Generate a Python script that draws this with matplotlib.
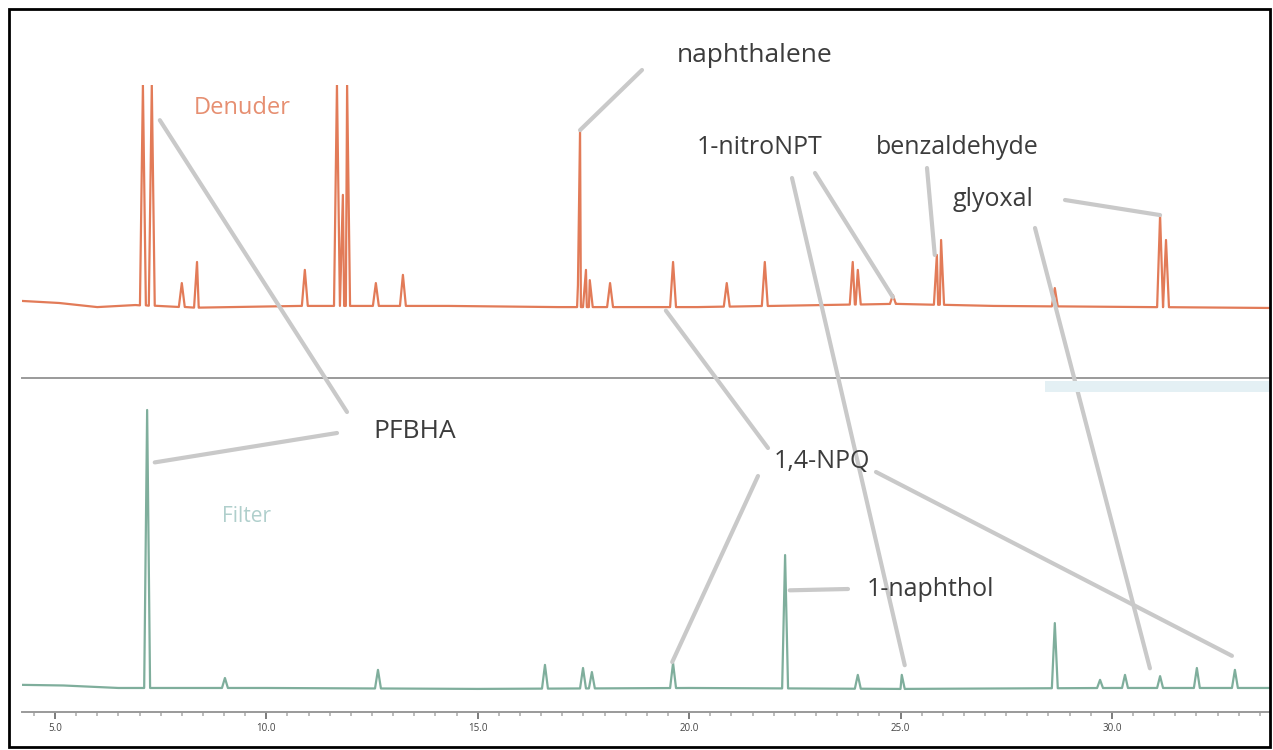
import numpy as np
import matplotlib.pyplot as plt
from matplotlib.patches import Rectangle

plt.rcParams['font.family'] = ['Open Sans', 'DejaVu Sans']

# retention time [min] and relative signal (0-100 of panel height)
den_base_t = [4.22, 5.1, 6.0, 6.9, 8.4, 10.8, 14.3, 16.9, 20.2, 24.9, 27.2, 33.74]
den_base_v = [26.3, 25.6, 24.2, 24.9, 24.0, 24.6, 24.6, 24.2, 24.2, 25.3, 24.6, 23.9]
den_peak_t = [7.08, 7.29, 8.00, 8.36, 10.91, 11.67, 11.81, 11.91, 12.59, 13.23,
              17.37, 17.42, 17.56, 17.65, 18.13, 19.62, 20.89, 21.79,
              23.87, 23.99, 24.82, 25.86, 25.96, 28.65, 31.14, 31.28]
den_peak_v = [100, 100, 32.4, 39.6, 36.9, 100, 62.5, 100, 32.4, 35.2,
              31.7, 84.6, 36.9, 33.4, 32.4, 39.6, 32.4, 39.6,
              39.6, 36.9, 28.3, 42.0, 47.1, 30.7, 55.6, 47.1]

fil_base_t = [4.22, 5.2, 6.5, 10.0, 15.0, 20.0, 25.0, 30.0, 33.74]
fil_base_v = [8.7, 8.5, 7.7, 7.7, 7.4, 7.7, 7.4, 7.7, 7.7]
fil_peak_t = [7.18, 9.02, 12.64, 16.59, 17.49, 17.70, 19.62, 22.27, 23.99,
              25.03, 28.65, 29.72, 30.31, 31.14, 32.01, 32.91]
fil_peak_v = [96.8, 10.9, 13.5, 15.1, 14.1, 12.8, 15.7, 50.3, 11.9,
              11.9, 28.5, 10.3, 11.9, 11.5, 14.1, 13.5]

tick_t = [5, 10, 15, 20, 25, 30]
tick_lab = ['5.0', '10.0', '15.0', '20.0', '25.0', '30.0']
t_min, t_max = 4.22, 33.74

den_col = '#e27b58'
fil_col = '#7fae9c'
txt_col = '#3c3c3c'
lead_col = '#c9c9c9'


def trace(bt, bv, pt, pv, w=0.07):
    # baseline points plus a triangle for every peak
    t = list(bt)
    v = list(bv)
    for p, h in zip(pt, pv):
        foot = np.interp(p, bt, bv)
        t += [p - w, p, p + w]
        v += [foot, h, foot]
    order = np.argsort(t)
    return np.array(t)[order], np.array(v)[order]


W, H = 1273, 750
fig = plt.figure(figsize=(W / 100, H / 100), dpi=100)

ax1 = fig.add_axes([22 / W, (H - 378) / H, 1248 / W, 293 / H])
ax2 = fig.add_axes([22 / W, (H - 712) / H, 1248 / W, 312 / H])

x, y = trace(den_base_t, den_base_v, den_peak_t, den_peak_v)
ax1.plot(x, y, color=den_col, lw=1.6)
x, y = trace(fil_base_t, fil_base_v, fil_peak_t, fil_peak_v)
ax2.plot(x, y, color=fil_col, lw=1.6)

for ax in (ax1, ax2):
    ax.set_xlim(t_min, t_max)
    ax.set_ylim(0, 100)
    ax.set_facecolor('none')
    for s in ('top', 'left', 'right'):
        ax.spines[s].set_visible(False)
    ax.spines['bottom'].set_color('#9a9a9a')
    ax.spines['bottom'].set_linewidth(1.4)
    ax.set_yticks([])

ax1.set_xticks([])
ax2.set_xticks(tick_t)
ax2.set_xticklabels(tick_lab)
ax2.set_xticks(np.arange(4.5, 34, 0.5), minor=True)
ax2.tick_params(axis='x', which='major', length=5, width=1.2, color='#666666',
                labelsize=7, labelcolor='#444444', pad=3)
ax2.tick_params(axis='x', which='minor', length=3, width=1.2, color='#b0b0b0')


def px(xp, yp):
    return (xp, H - yp)


# leader lines from a point in figure pixels to a peak
lead = dict(arrowstyle='-', color=lead_col, lw=3, shrinkA=0, shrinkB=0)


def leader(ax, t, v, xp, yp):
    ax.annotate('', xy=(t, v), xytext=px(xp, yp), textcoords='figure pixels',
                arrowprops=lead)


def label(s, xp, yp, **kw):
    kw.setdefault('color', txt_col)
    kw.setdefault('fontsize', 18)
    fig.text(xp / W, (H - yp) / H, s, ha='center', va='center', **kw)


leader(ax1, 17.42, 84.6, 642, 70)
leader(ax1, 7.48, 88, 347, 412)
leader(ax2, 7.36, 80, 337, 433)
leader(ax1, 19.45, 23, 768, 448)
leader(ax2, 19.6, 16, 758, 476)
leader(ax2, 32.84, 18, 876, 472)
leader(ax1, 24.82, 27.6, 815, 173)
leader(ax2, 25.1, 15, 792, 178)
leader(ax1, 25.81, 42, 927, 168)
leader(ax1, 31.14, 55.6, 1065, 200)
leader(ax2, 30.9, 14, 1035, 228)
leader(ax2, 22.38, 39, 848, 589)

label('naphthalene', 755, 55, fontsize=19)
label('PFBHA', 415, 432, fontsize=19)
label('1,4-NPQ', 822, 462)
label('1-nitroNPT', 760, 148)
label('benzaldehyde', 957, 148)
label('glyoxal', 993, 200)
label('1-naphthol', 930, 590)
label('Denuder', 242, 108, color=den_col, fontsize=17, alpha=0.85)
label('Filter', 246, 516, color='#9cc4c0', fontsize=15, alpha=0.8)

# pale strip under the separator on the right
fig.add_artist(Rectangle((1045 / W, (H - 392) / H), 225 / W, 11 / H,
                         transform=fig.transFigure, color='#e4f0f4', lw=0))
# frame
fig.add_artist(Rectangle((9 / W, 3 / H), 1261 / W, 738 / H,
                         transform=fig.transFigure, fill=False,
                         edgecolor='black', lw=2))

fig.savefig('out.png', dpi=100)
